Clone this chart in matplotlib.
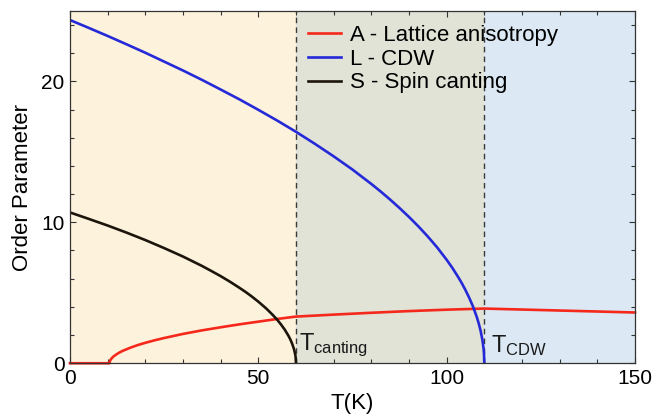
import numpy as np
import matplotlib
matplotlib.use("Agg")
import matplotlib.pyplot as plt
from matplotlib.ticker import MultipleLocator

plt.rcParams['font.family'] = ['Liberation Sans', 'DejaVu Sans']
plt.rcParams['mathtext.fontset'] = 'custom'
plt.rcParams['mathtext.rm'] = 'Liberation Sans'
plt.rcParams['mathtext.it'] = 'Liberation Sans'

# transition temperatures (K)
T_canting = 60
T_cdw = 110

# L - CDW order parameter
T_L = [0, 5, 10, 15, 20, 25, 30, 35, 40, 45, 50, 55, 60, 65, 70, 75, 80, 82.5, 85, 87.5, 90,
       92.5, 95, 97.5, 100, 101.5, 103, 104, 105, 106, 107, 108, 108.5, 109, 109.5, 109.8, 109.9, 110]
L_vals = [24.35, 23.79, 23.22, 22.63, 22.03, 21.40, 20.77, 20.11, 19.42, 18.72, 17.98, 17.22, 16.42,
          15.57, 14.68, 13.74, 12.72, 12.18, 11.61, 11.01, 10.38, 9.71, 8.99, 8.21, 7.34, 6.77, 6.14,
          5.69, 5.19, 4.64, 4.02, 3.28, 2.84, 2.32, 1.64, 1.04, 0.73, 0.0]

# S - spin canting order parameter
T_S = [0, 5, 10, 15, 20, 25, 30, 32.5, 35, 37.5, 40, 42.5, 45, 46.5, 48, 49, 50, 51, 52, 53, 54,
       55, 56, 57, 58, 58.5, 59, 59.5, 59.8, 59.9, 60]
S_vals = [10.7, 10.24, 9.77, 9.27, 8.74, 8.17, 7.57, 7.24, 6.91, 6.55, 6.18, 5.78, 5.35, 5.08, 4.79,
          4.58, 4.37, 4.14, 3.91, 3.65, 3.38, 3.09, 2.76, 2.39, 1.95, 1.69, 1.38, 0.98, 0.62, 0.44, 0.0]

# A - lattice anisotropy
T_A = [0, 10.5, 10.6, 10.7, 11, 11.5, 12.5, 13, 14, 16, 18, 20, 22.5, 25, 30, 35, 40, 45, 50, 55,
       60, 70, 80, 90, 100, 110, 130, 150]
A_vals = [0.0, 0.0, 0.15, 0.21, 0.33, 0.47, 0.66, 0.74, 0.88, 1.10, 1.29, 1.45, 1.63, 1.79, 2.08,
          2.33, 2.55, 2.76, 2.95, 3.14, 3.31, 3.45, 3.58, 3.70, 3.80, 3.88, 3.74, 3.60]

fig = plt.figure(figsize=(6.57, 4.18), dpi=100)
ax = fig.add_axes([0.1065, 0.131, 0.86, 0.843])

# phase regions
ax.axvspan(0, T_canting, color='#fdf2dc', lw=0)
ax.axvspan(T_canting, T_cdw, color='#e0e3d6', lw=0)
ax.axvspan(T_cdw, 150, color='#dce9f4', lw=0)
for t in (T_canting, T_cdw):
    ax.axvline(t, color='#3a3a3a', lw=1.0, ls=(0, (4, 3)))

ax.plot(T_A, A_vals, color='#f5281c', lw=1.9, label='A - Lattice anisotropy', clip_on=False)
ax.plot(T_L, L_vals, color='#2529d8', lw=1.9, label='L - CDW')
ax.plot(T_S, S_vals, color='#1c150c', lw=1.9, label='S - Spin canting')

ax.text(60.8, 0.9, r'T$_{\mathrm{canting}}$', fontsize=17, color='#1a1a1a')
ax.text(111.8, 0.8, r'T$_{\mathrm{CDW}}$', fontsize=17, color='#1a1a1a')

ax.set_xlim(0, 150)
ax.set_ylim(0, 25)
ax.xaxis.set_major_locator(MultipleLocator(50))
ax.xaxis.set_minor_locator(MultipleLocator(10))
ax.yaxis.set_major_locator(MultipleLocator(10))
ax.yaxis.set_minor_locator(MultipleLocator(2))
ax.tick_params(which='both', direction='in', top=True, right=True, color='#333333', labelsize=15, pad=4)
ax.tick_params(which='major', length=4, width=0.8)
ax.tick_params(which='minor', length=2.6, width=0.8)
for s in ax.spines.values():
    s.set_color('#333333')
    s.set_linewidth(0.9)

ax.set_xlabel('T(K)', fontsize=16, labelpad=4)
ax.set_ylabel('Order Parameter', fontsize=16, labelpad=6)

ax.legend(loc='upper left', bbox_to_anchor=(0.405, 0.985), frameon=False, fontsize=16,
          handlelength=1.5, handletextpad=0.4, labelspacing=0.12, borderaxespad=0)

fig.savefig('out.png', dpi=100)
